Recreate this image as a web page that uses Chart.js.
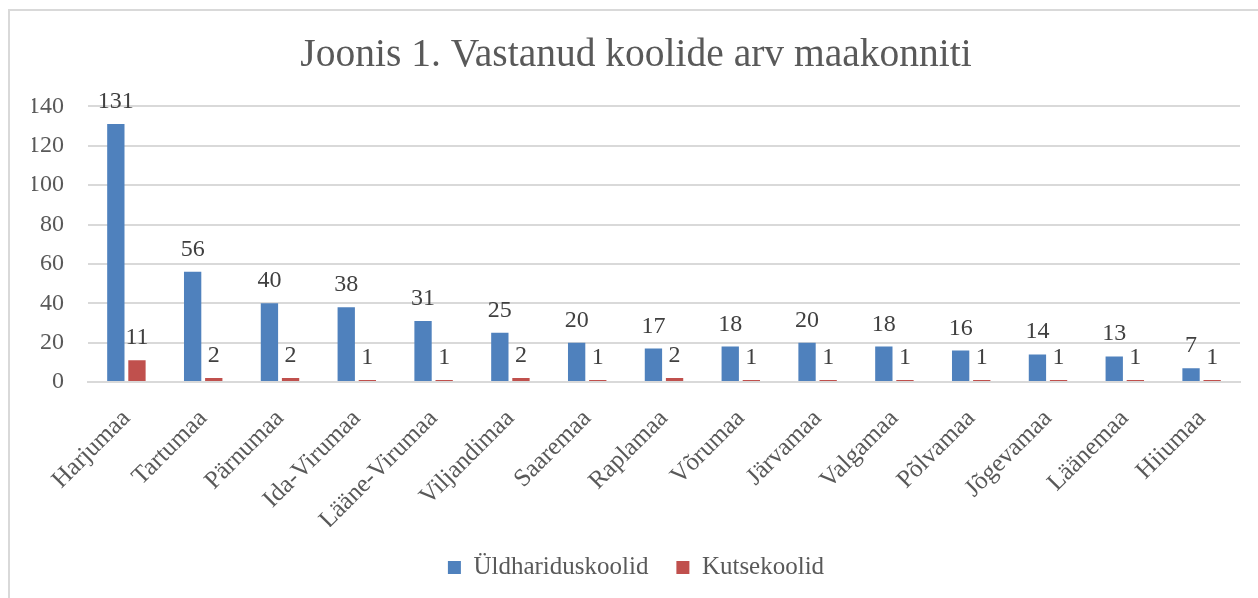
<!DOCTYPE html>
<html>
<head>
<meta charset="utf-8">
<script src="https://cdn.jsdelivr.net/npm/chart.js@4.4.1/dist/chart.umd.min.js"></script>
<style>
  html, body { margin: 0; padding: 0; background: #fff; }
  #wrap { position: relative; width: 1258px; height: 598px; overflow: hidden; }
  #frame { position: absolute; left: 8px; top: 9px; width: 1300px; height: 700px;
           border-left: 2px solid #d9d9d9; border-top: 2px solid #d9d9d9; box-sizing: border-box; }
  canvas { position: absolute; left: 0; top: 0; }
</style>
</head>
<body>
<div id="wrap">
  <div id="frame"></div>
  <canvas id="c" width="1258" height="598"></canvas>
</div>
<script>
const categories = ["Harjumaa","Tartumaa","Pärnumaa","Ida-Virumaa","Lääne-Virumaa","Viljandimaa","Saaremaa","Raplamaa","Võrumaa","Järvamaa","Valgamaa","Põlvamaa","Jõgevamaa","Läänemaa","Hiiumaa"];
const yldharidus = [131,56,40,38,31,25,20,17,18,20,18,16,14,13,7];
const kutse = [11,2,2,1,1,2,1,2,1,1,1,1,1,1,1];
const seriesNames = ["Üldhariduskoolid","Kutsekoolid"];
const titleText = "Joonis 1. Vastanud koolide arv maakonniti";

const FONT = "'Liberation Serif', 'DejaVu Serif', serif";

const valueLabels = {
  id: 'valueLabels',
  afterDatasetsDraw(chart) {
    const ctx = chart.ctx;
    ctx.save();
    ctx.font = "24px " + FONT;
    ctx.fillStyle = "#404040";
    ctx.textAlign = "center";
    ctx.textBaseline = "alphabetic";
    chart.data.datasets.forEach((ds, i) => {
      const meta = chart.getDatasetMeta(i);
      meta.data.forEach((el, j) => {
        ctx.fillText(String(ds.data[j]), el.x, el.y - 16);
      });
    });
    ctx.restore();
  }
};

new Chart(document.getElementById('c'), {
  type: 'bar',
  data: {
    labels: categories,
    datasets: [
      { label: seriesNames[0], data: yldharidus, backgroundColor: '#4f81bd', borderWidth: 0,
        categoryPercentage: 0.55, barPercentage: 0.82 },
      { label: seriesNames[1], data: kutse, backgroundColor: '#c0504d', borderWidth: 0,
        categoryPercentage: 0.55, barPercentage: 0.82 }
    ]
  },
  options: {
    responsive: false,
    animation: false,
    devicePixelRatio: 1,
    layout: { padding: { left: 32, right: 18, top: 0, bottom: 8 } },
    plugins: {
      title: {
        display: true, text: titleText, color: '#595959',
        font: { family: FONT, size: 39.5, weight: 'normal' },
        padding: { top: 32, bottom: 27 }
      },
      legend: {
        position: 'bottom',
        labels: {
          color: '#595959', font: { family: FONT, size: 25 },
          boxWidth: 13, boxHeight: 13, padding: 28
        }
      },
      tooltip: { enabled: false }
    },
    scales: {
      x: {
        grid: { display: false },
        border: { display: true, color: '#d9d9d9', width: 2 },
        ticks: { color: '#595959', font: { family: FONT, size: 25 }, maxRotation: 45, minRotation: 45, autoSkip: false, padding: 14 },
        afterFit(scale) { scale.height = 145; }
      },
      y: {
        min: 0, max: 140,
        ticks: { stepSize: 20, color: '#595959', font: { family: FONT, size: 24 }, padding: 24 },
        grid: { color: '#d9d9d9', lineWidth: 2, drawTicks: false },
        border: { display: false },
        afterFit(scale) { scale.width = 56; }
      }
    }
  },
  plugins: [valueLabels]
});
</script>
</body>
</html>
